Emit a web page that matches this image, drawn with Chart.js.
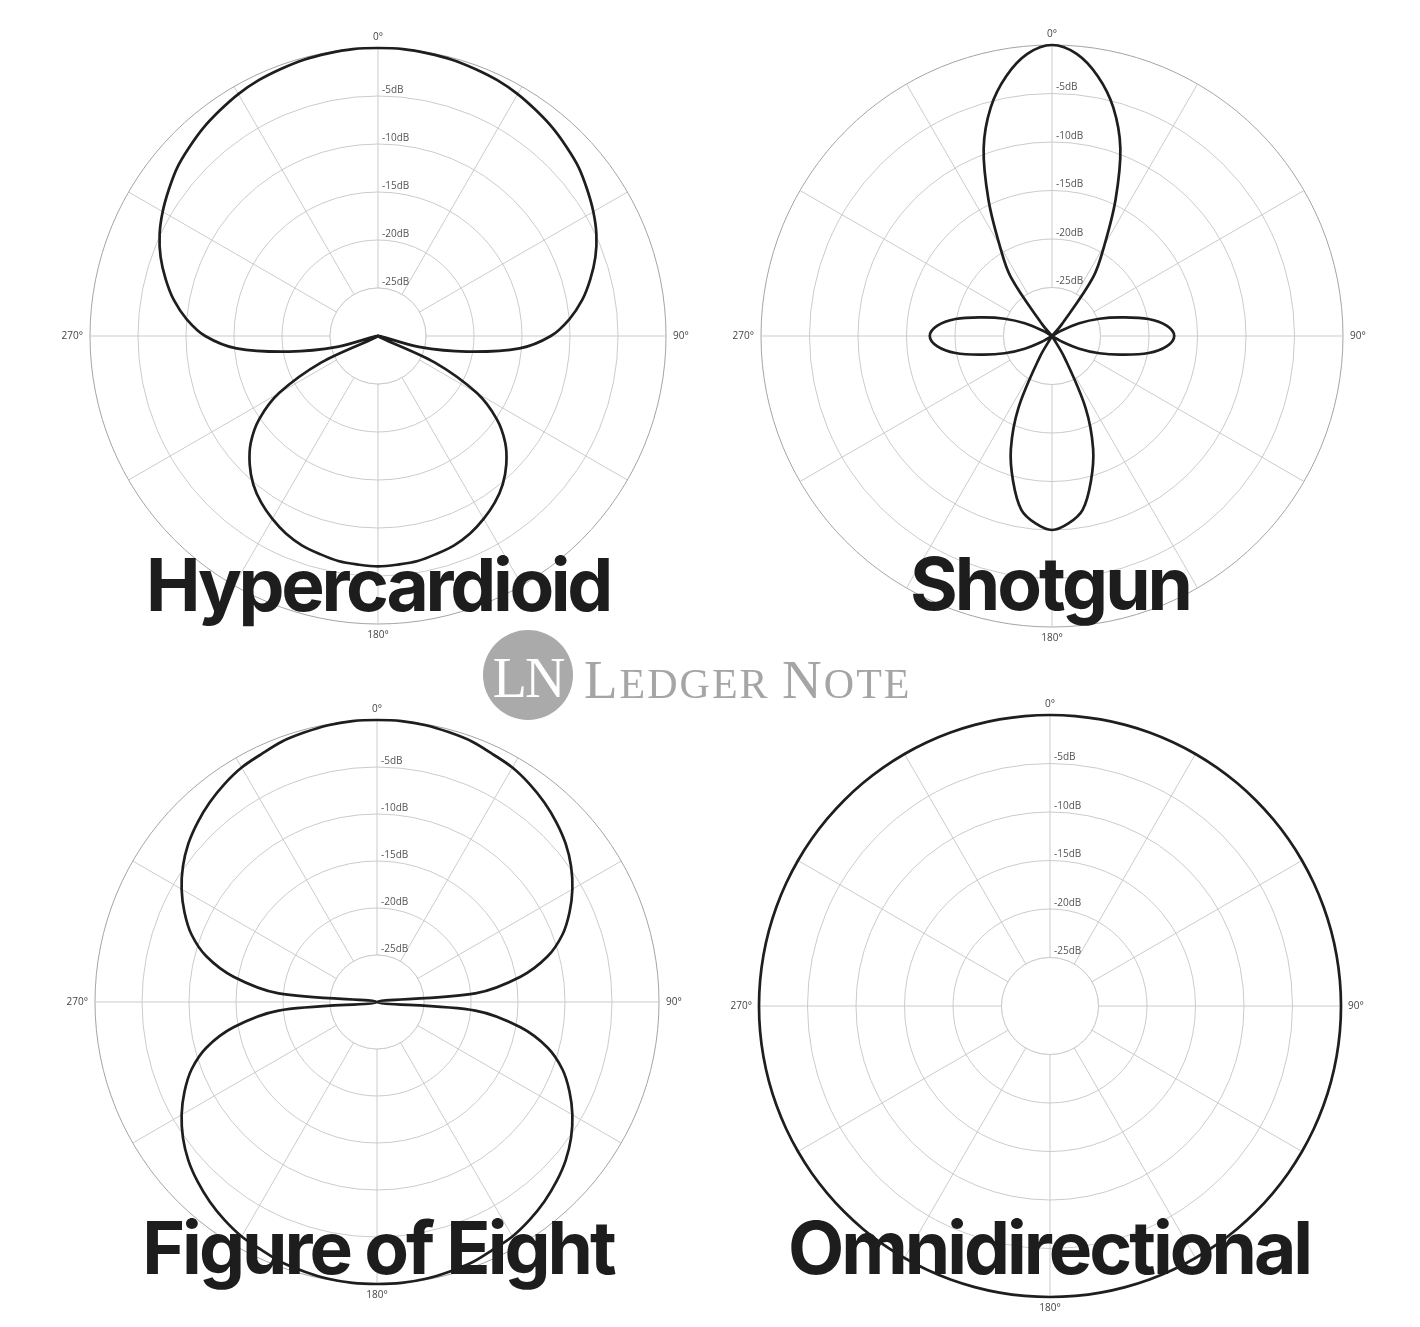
<!DOCTYPE html>
<html>
<head>
<meta charset="utf-8">
<script src="https://cdn.jsdelivr.net/npm/chart.js@4/dist/chart.umd.min.js"></script>
<style>
  html, body { margin: 0; padding: 0; background: #fff; }
  #page { position: relative; width: 1420px; height: 1327px; overflow: hidden; background: #fff; }
  canvas { position: absolute; }
  .title {
    position: absolute; width: 800px; text-align: center; white-space: nowrap;
    font-family: Inter, "Open Sans", sans-serif; font-weight: 700;
    font-size: 73px; line-height: 73px; letter-spacing: -3px; color: #1d1d1d;
  }
  #badge {
    position: absolute; left: 483px; top: 630px; width: 90px; height: 90px; border-radius: 50%;
    background: #aaaaaa; color: #fff; text-align: center;
    font-family: "Liberation Serif", serif; font-size: 56px; line-height: 90px; letter-spacing: -2px;
    box-sizing: border-box; padding-top: 3px;
  }
  #word {
    position: absolute; left: 584px; top: 652px; white-space: nowrap;
    font-family: "Liberation Serif", serif; font-size: 42px; line-height: 55px; letter-spacing: 2px; color: #a5a5a5;
  }
  #word .cap { font-size: 55px; }
</style>
</head>
<body>
<div id="page">
  <canvas id="hyper" width="660" height="660" style="left:48px;top:6px"></canvas>
  <canvas id="shotgun" width="660" height="660" style="left:722px;top:6px"></canvas>
  <canvas id="eight" width="660" height="660" style="left:47px;top:672px"></canvas>
  <canvas id="omni" width="660" height="660" style="left:720px;top:676px"></canvas>

  <div class="title" style="left:-22px;top:548px;letter-spacing:-3.3px">Hypercardioid</div>
  <div class="title" style="left:650px;top:547px">Shotgun</div>
  <div class="title" style="left:-22px;top:1211px">Figure of Eight</div>
  <div class="title" style="left:649px;top:1211px">Omnidirectional</div>

  <div id="badge">LN</div>
  <div id="word"><span class="cap">L</span>EDGER <span class="cap">N</span>OTE</div>
</div>
<script>
"use strict";

// angle of every sample, degrees clockwise from the front (0°)
const angles = [0, 5, 10, 15, 20, 25, 30, 35, 40, 45, 50, 55, 60, 65, 70, 75, 80, 85,
  90, 95, 100, 105, 110, 115, 120, 125, 130, 135, 140, 145, 150, 155, 160, 165, 170, 175,
  180, 185, 190, 195, 200, 205, 210, 215, 220, 225, 230, 235, 240, 245, 250, 255, 260, 265,
  270, 275, 280, 285, 290, 295, 300, 305, 310, 315, 320, 325, 330, 335, 340, 345, 350, 355];

const compassAngles = [0, 90, 180, 270];
const compassLabels = ["0°", "90°", "180°", "270°"];
const dbTicks = [-5, -10, -15, -20, -25];
const dbTickLabels = ["-5dB", "-10dB", "-15dB", "-20dB", "-25dB"];

// response in dB, one value per angle (-30 = centre)
const hypercardioid = [0, 0, -0.1, -0.2, -0.4, -0.6, -0.9, -1.3, -1.7, -2.2, -2.7, -3.4, -4.1, -4.9, -5.9, -7.1, -8.4, -10.0,
  -12.0, -15.2, -20.6, -25.6, -30, -23.5, -18.1, -14.9, -12.7, -11.1, -9.8, -8.8, -8.0, -7.3, -6.8, -6.5, -6.2, -6.1,
  -6.0, -6.1, -6.2, -6.5, -6.8, -7.3, -8.0, -8.8, -9.8, -11.1, -12.7, -14.9, -18.1, -23.5, -30, -25.6, -20.6, -15.2,
  -12.0, -10.0, -8.4, -7.1, -5.9, -4.9, -4.1, -3.4, -2.7, -2.2, -1.7, -1.3, -0.9, -0.6, -0.4, -0.2, -0.1, 0];

const shotgun = [0, -0.8, -2.8, -5.6, -9.4, -14.5, -19.2, -22.6, -28.5, -30, -30, -30, -29.0, -26.9, -24.8, -22.6, -19.9, -18.1,
  -17.4, -18.1, -19.9, -22.6, -24.8, -26.9, -29.0, -30, -30, -30, -30, -30, -27.4, -21.8, -17.6, -14.5, -11.8, -10.6,
  -10.0, -10.6, -11.8, -14.5, -17.6, -21.8, -27.4, -30, -30, -30, -30, -30, -29.0, -26.9, -24.8, -22.6, -19.9, -18.1,
  -17.4, -18.1, -19.9, -22.6, -24.8, -26.9, -29.0, -30, -30, -30, -28.5, -22.6, -19.2, -14.5, -9.4, -5.6, -2.8, -0.8];

const figureOfEight = [0, 0, -0.1, -0.3, -0.5, -0.9, -1.2, -1.7, -2.3, -3.0, -3.8, -4.8, -6.0, -7.4, -9.0, -11.2, -14.5, -19.5,
  -30, -19.5, -14.5, -11.2, -9.0, -7.4, -6.0, -4.8, -3.8, -3.0, -2.3, -1.7, -1.2, -0.9, -0.5, -0.3, -0.1, 0,
  0, 0, -0.1, -0.3, -0.5, -0.9, -1.2, -1.7, -2.3, -3.0, -3.8, -4.8, -6.0, -7.4, -9.0, -11.2, -14.5, -19.5,
  -30, -19.5, -14.5, -11.2, -9.0, -7.4, -6.0, -4.8, -3.8, -3.0, -2.3, -1.7, -1.2, -0.9, -0.5, -0.3, -0.1, 0];

const omnidirectional = [0, 0, 0, 0, 0, 0, 0, 0, 0, 0, 0, 0, 0, 0, 0, 0, 0, 0,
  0, 0, 0, 0, 0, 0, 0, 0, 0, 0, 0, 0, 0, 0, 0, 0, 0, 0,
  0, 0, 0, 0, 0, 0, 0, 0, 0, 0, 0, 0, 0, 0, 0, 0, 0, 0,
  0, 0, 0, 0, 0, 0, 0, 0, 0, 0, 0, 0, 0, 0, 0, 0, 0, 0];

const gridColor = "#cbcbcb";
const outerColor = "#a4a4a4";

// inner hole, dB labels and compass labels
const polarDecor = {
  id: "polarDecor",
  beforeDatasetsDraw(chart) {
    const r = chart.scales.r;
    const ctx = chart.ctx;
    const inner = r.getDistanceFromCenterForValue(-25);
    ctx.save();
    ctx.fillStyle = "#fff";
    ctx.beginPath();
    ctx.arc(r.xCenter, r.yCenter, inner, 0, Math.PI * 2);
    ctx.fill();
    ctx.strokeStyle = gridColor;
    ctx.lineWidth = 1;
    ctx.stroke();

    ctx.font = "10px 'Open Sans'";
    ctx.fillStyle = "#555";
    ctx.textAlign = "left";
    ctx.textBaseline = "middle";
    dbTicks.forEach((v, i) => {
      const d = r.getDistanceFromCenterForValue(v);
      ctx.fillText(dbTickLabels[i], r.xCenter + 4, r.yCenter - d - 6);
    });

    ctx.fillStyle = "#444";
    compassAngles.forEach((a, i) => {
      const idx = angles.indexOf(a);
      const side = a === 90 || a === 270;
      const p = r.getPointPosition(idx, r.drawingArea + (side ? 7 : 11));
      ctx.textAlign = a === 90 ? "left" : a === 270 ? "right" : "center";
      ctx.fillText(compassLabels[i], p.x, p.y);
    });
    ctx.restore();
  }
};

function makePolar(id, values, pad) {
  new Chart(document.getElementById(id), {
    type: "radar",
    data: {
      labels: angles,
      datasets: [{
        data: values,
        borderColor: "#1e1e1e",
        borderWidth: 2.7,
        fill: false,
        tension: 0.35,
        pointRadius: 0,
        borderJoinStyle: "round"
      }]
    },
    options: {
      responsive: false,
      animation: false,
      events: [],
      layout: { padding: pad },
      plugins: { legend: { display: false }, tooltip: { enabled: false } },
      scales: {
        r: {
          min: -30,
          max: 0,
          startAngle: 0,
          ticks: { display: false, stepSize: 5 },
          pointLabels: { display: false },
          grid: {
            circular: true,
            lineWidth: 1,
            color: c => (c.tick && c.tick.value === 0 ? outerColor : gridColor)
          },
          angleLines: {
            color: gridColor,
            lineWidth: c => (c.index % 6 === 0 ? 1 : 0)
          }
        }
      }
    },
    plugins: [polarDecor]
  });
}

makePolar("hyper", hypercardioid, 42);
makePolar("shotgun", shotgun, 39);
makePolar("eight", figureOfEight, 48);
makePolar("omni", omnidirectional, 39);
</script>
</body>
</html>
